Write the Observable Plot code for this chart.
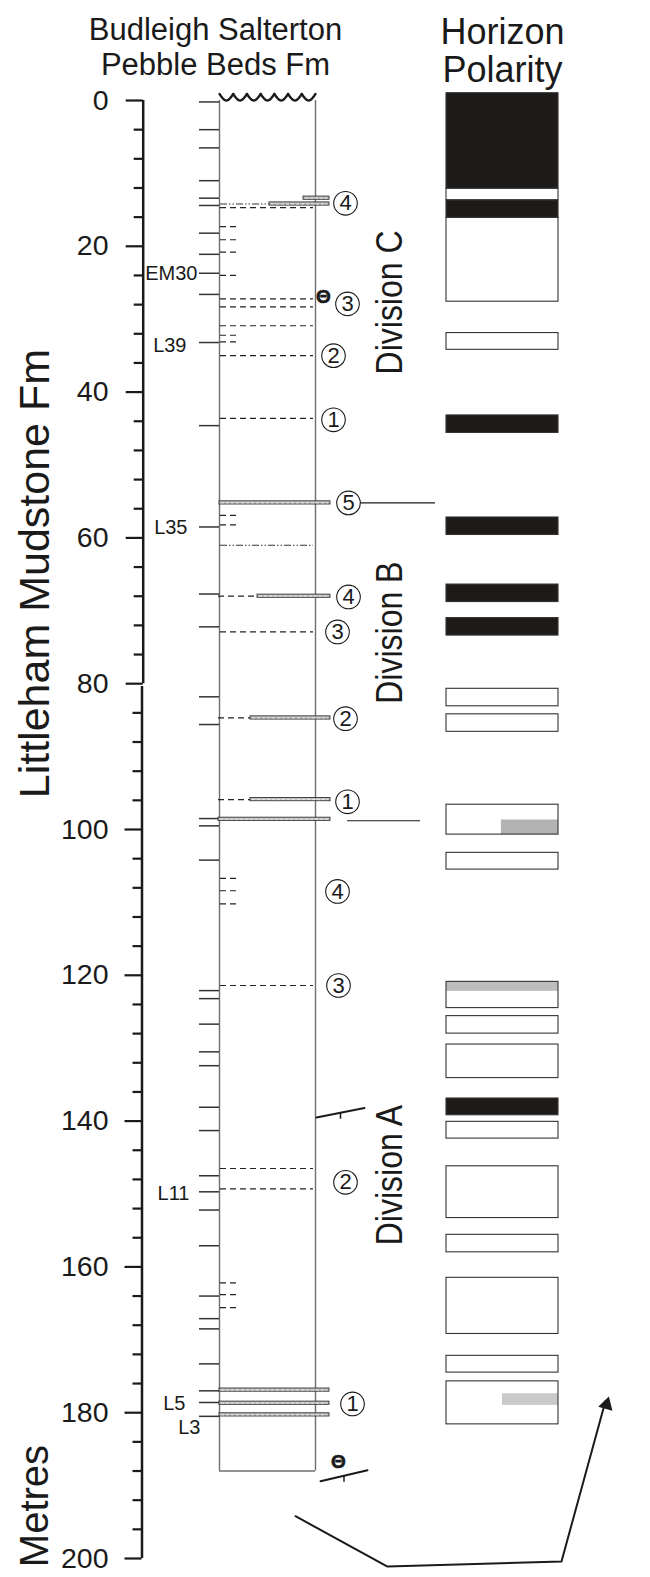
<!DOCTYPE html>
<html>
<head>
<meta charset="utf-8">
<script src="https://cdn.jsdelivr.net/npm/d3@7"></script>
<script src="https://cdn.jsdelivr.net/npm/@observablehq/plot@0.6"></script>
<style>
  html, body { margin: 0; padding: 0; background: #fff; }
  #chart svg { display: block; }
</style>
</head>
<body>
<div id="chart"></div>
<script>
// ---------------- DATA ----------------
// depth axis (metres)
const majorTicks = [0, 20, 40, 60, 80, 100, 120, 140, 160, 180, 200];
const minorTicks = [4, 8, 12, 16, 24, 28, 32, 36, 44, 48, 52, 56, 64, 68, 72, 76,
  84, 88, 92, 96, 104, 108, 112, 116, 124, 128, 132, 136, 144, 148, 152, 156,
  164, 168, 172, 176, 184, 188, 192, 196];

// headings
const columnTitle = ["Budleigh Salterton", "Pebble Beds Fm"];
const polarityTitle = ["Horizon", "Polarity"];
const formationName = "Littleham Mudstone Fm";
const unitName = "Metres";

// log column
const columnBase = 188.0;
const bedTicks = [0.2, 4.0, 6.5, 11.0, 13.4, 14.4, 18.2, 21.1, 23.7, 26.6, 33.2, 44.6,
  58.5, 67.7, 72.2, 81.8, 85.6, 98.5, 99.5, 104.2, 122.1, 123.2, 126.7, 130.5, 132.4,
  138.1, 141.3, 147.5, 149.7, 152.2, 157.1, 164.0, 167.1, 168.5, 173.3, 177.0, 178.6, 180.5];
const shortDashes = [17.3, 19.1, 20.8, 24.0, 32.2, 33.1, 56.9, 58.2, 106.7, 108.4, 110.2, 162.2, 163.8, 165.6];
const dashedLines = [14.7, 27.2, 28.3, 30.9, 35.0, 43.6, 72.9, 121.4, 146.5, 149.3];
const dotDashLines = [61.0];

// marker horizons (thin hatched beds)
const horizonDepths = [13.4, 14.2, 55.2, 68.0, 84.7, 95.9, 98.6, 176.9, 178.7, 180.3];
const horizonLead = ["none", "dotdash", "none", "dash", "dash", "dash", "none", "none", "none", "none"];

// circled horizon numbers
const circleNumbers = ["4", "3", "2", "1", "5", "4", "3", "2", "1", "4", "3", "2", "1"];
const circleDepths = [14.1, 27.9, 35.0, 43.8, 55.2, 68.1, 72.9, 84.8, 96.2, 108.5, 121.4, 148.4, 178.8];

// bed labels
const bedLabels = ["EM30", "L39", "L35", "L11", "L5", "L3"];
const bedLabelDepths = [23.7, 33.6, 58.6, 150.0, 178.8, 182.0];

// divisions
const divisionNames = ["Division C", "Division B", "Division A"];
const divisionCentres = [27.7, 73.0, 147.4];

// horizon polarity column: top, base, polarity (N = black, R = white)
const polTop = [-1.0, 12.1, 13.7, 16.1, 31.9, 43.2, 57.2, 66.4, 71.0, 80.7, 84.2, 96.6,
  103.2, 120.9, 125.6, 129.5, 136.9, 140.1, 146.2, 155.6, 161.5, 172.2, 175.7];
const polBase = [12.1, 13.7, 16.1, 27.6, 34.2, 45.6, 59.6, 68.8, 73.4, 83.1, 86.6, 100.7,
  105.5, 124.5, 128.0, 134.1, 139.2, 142.4, 153.3, 158.0, 169.2, 174.5, 181.6];
const polSign = ["N", "R", "N", "R", "R", "N", "N", "N", "N", "R", "R", "R",
  "R", "R", "R", "R", "N", "R", "R", "R", "R", "R", "R"];
// uncertain (grey) intervals inside polarity boxes
const greyTop = [98.7, 120.9, 177.4];
const greyBase = [100.7, 122.2, 179.0];
const greyShade = ["#b2b2b2", "#bdbdbd", "#c9c9c9"];
const greyFromFraction = [0.49, 0.0, 0.50];

// dip/strike symbols and unconformity marker
const strikeDepthsA = [139.5, 138.2];
const strikeDepthsB = [189.4, 187.9];
const thetaDepths = [27.0, 186.7];
const connectorDepths = [55.2, 98.8];
const arrowDepths = [194.2, 201.1, 200.4, 178.4];

// ---------------- LAYOUT (page positions, x in px) ----------------
const AX_U = 142.7, AX_L = 141.5, AXIS_BREAK = 80, AXIS_RESTART = 80.4;
const LITH_L = 219, LITH_R = 315;
const POL_L = 446, POL_R = 558;
const TICK_L = 199;
const DASH_R = 238;
const horizonFromX = [303, 269, 219, 257, 250, 250, 218, 219, 219, 219];
const horizonToX = [329, 329, 330, 330, 330, 330, 330, 329, 329, 329];
const circleX = [345, 347, 333, 333, 348, 348, 337, 345, 347, 337, 338, 345, 352];
const bedLabelRight = [197, 186, 187, 189, 185, 200];
const thetaX = [323, 338];
const connectorX1 = [359, 347], connectorX2 = [435, 420];
const strikeXA = [316, 364], strikeXB = [320, 367];
const arrowX = [295, 387, 561, 605];

// ---------------- BUILD TABLES ----------------
const axisX = v => (v <= AXIS_BREAK ? AX_U : AX_L);
const horizons = horizonDepths.map((d, i) => ({d, lead: horizonLead[i], x1: horizonFromX[i], x2: horizonToX[i]}));
const circles = circleNumbers.map((n, i) => ({n, d: circleDepths[i], x: circleX[i]}));
const labels = bedLabels.map((t, i) => ({t, d: bedLabelDepths[i], x: bedLabelRight[i]}));
const divisions = divisionNames.map((t, i) => ({t, d: divisionCentres[i]}));
const polarity = polTop.map((t, i) => ({t, b: polBase[i], s: polSign[i]}));
const greys = greyTop.map((t, i) => ({t, b: greyBase[i], c: greyShade[i], f: greyFromFraction[i]}));
const strikes = [
  {x: strikeXA, y: strikeDepthsA},
  {x: strikeXB, y: strikeDepthsB}
];
const strikeLines = strikes.flatMap((s, k) => s.x.map((x, j) => ({k, x, y: s.y[j]})));
const strikeTicks = strikes.map((s, k) => ({k, x: (s.x[0] + s.x[1]) / 2, y: (s.y[0] + s.y[1]) / 2}));
const arrowPts = arrowX.map((x, i) => ({x, y: arrowDepths[i]}));
// scallops of the erosive top surface
const nScallop = 7;
const scallops = d3.range(nScallop).flatMap(i => d3.range(0, 1.0001, 0.1).map(t => ({
  i, x: LITH_L + (i + t) * (LITH_R - LITH_L) / nScallop, y: -0.9 + 0.9 * Math.sin(Math.PI * t)
})));

const FONT = "'Liberation Sans', Arial, Helvetica, sans-serif";
const INK = "#1a1a1a";

const chart = Plot.plot({
  width: 650,
  height: 1577,
  margin: 0,
  x: {domain: [0, 650], range: [0, 650], axis: null},
  y: {domain: [0, 200], range: [100, 1558], axis: null},
  style: {fontFamily: FONT, background: "#fff", color: INK, overflow: "visible"},
  marks: [
    // headings
    Plot.text(columnTitle, {x: 215, y: [-8.3, -3.5], text: d => d, fontSize: 31, lineAnchor: "bottom", fill: INK}),
    Plot.text(polarityTitle, {x: 502, y: [-7.7, -2.5], text: d => d, fontSize: 36, lineAnchor: "bottom", fill: INK}),

    // depth axis
    Plot.ruleX([AX_U], {x: d => d, y1: 0, y2: AXIS_BREAK, stroke: INK, strokeWidth: 2.5}),
    Plot.ruleX([AX_L], {x: d => d, y1: AXIS_RESTART, y2: 200, stroke: INK, strokeWidth: 2.5}),
    Plot.ruleY(majorTicks, {y: d => d, x1: d => axisX(d) - 17, x2: d => axisX(d), stroke: INK, strokeWidth: 2.2}),
    Plot.ruleY(minorTicks, {y: d => d, x1: d => axisX(d) - 9, x2: d => axisX(d), stroke: INK, strokeWidth: 2.2}),
    Plot.text(majorTicks, {y: d => d, x: 108, text: d => String(d), textAnchor: "end", fontSize: 28.5, fill: INK}),
    Plot.text([formationName], {x: 48, y: 64.9, text: d => d, rotate: -90, lineAnchor: "bottom", fontSize: 43, fill: INK}),
    Plot.text([unitName], {x: 47, y: 192.8, text: d => d, rotate: -90, lineAnchor: "bottom", fontSize: 40, fill: INK}),

    // log column outline
    Plot.ruleX([LITH_L, LITH_R], {x: d => d, y1: 0, y2: columnBase, stroke: "#6e6e6e", strokeWidth: 1.4}),
    Plot.ruleY([columnBase], {y: d => d, x1: LITH_L, x2: LITH_R, stroke: "#6e6e6e", strokeWidth: 1.4}),
    Plot.line(scallops, {x: "x", y: "y", z: "i", stroke: INK, strokeWidth: 2.4}),

    // bed ticks, dashes
    Plot.ruleY(bedTicks, {y: d => d, x1: TICK_L, x2: LITH_L, stroke: "#333", strokeWidth: 1.5}),
    Plot.ruleY(shortDashes, {y: d => d, x1: LITH_L + 1, x2: DASH_R, stroke: "#222", strokeWidth: 1.2, strokeDasharray: "6,4"}),
    Plot.ruleY(dashedLines, {y: d => d, x1: LITH_L + 1, x2: LITH_R - 2, stroke: "#222", strokeWidth: 1.2, strokeDasharray: "6,4"}),
    Plot.ruleY(dotDashLines, {y: d => d, x1: LITH_L + 1, x2: LITH_R - 2, stroke: "#333", strokeWidth: 1.1, strokeDasharray: "7,2,1.5,2,1.5,2"}),
    Plot.ruleY(horizons.filter(h => h.lead === "dash"), {y: "d", x1: LITH_L - 1, x2: "x1", stroke: "#222", strokeWidth: 1.2, strokeDasharray: "6,4"}),
    Plot.ruleY(horizons.filter(h => h.lead === "dotdash"), {y: "d", x1: LITH_L + 1, x2: "x1", stroke: "#333", strokeWidth: 1.1, strokeDasharray: "7,2,1.5,2,1.5,2"}),

    // marker horizons
    Plot.rect(horizons, {x1: "x1", x2: "x2", y1: d => d.d - 0.22, y2: d => d.d + 0.22, fill: "#c2c2c2", stroke: "#333", strokeWidth: 0.9}),
    Plot.ruleY(horizons, {y: "d", x1: d => d.x1 + 2, x2: d => d.x2 - 2, stroke: "#f2f2f2", strokeWidth: 0.8, strokeDasharray: "3,2"}),

    // circled numbers and connectors
    Plot.ruleY(connectorDepths, {y: d => d, x1: (d, i) => connectorX1[i], x2: (d, i) => connectorX2[i], stroke: INK, strokeWidth: 1.2}),
    Plot.dot(circles, {x: "x", y: "d", r: 11.8, fill: "#fff", stroke: INK, strokeWidth: 1.1}),
    Plot.text(circles, {x: "x", y: "d", text: "n", fontSize: 22, fill: INK}),

    // bed labels
    Plot.text(labels, {x: "x", y: "d", text: "t", textAnchor: "end", fontSize: 20, fill: INK}),

    // theta markers & strike symbols
    Plot.text(thetaDepths, {x: (d, i) => thetaX[i], y: d => d, text: () => "Θ", fontSize: 19, fontWeight: "bold", fill: INK, stroke: INK, strokeWidth: 0.6}),
    Plot.line(strikeLines, {x: "x", y: "y", z: "k", stroke: INK, strokeWidth: 2}),
    Plot.ruleX(strikeTicks, {x: "x", y1: "y", y2: d => d.y + 0.9, stroke: INK, strokeWidth: 1.5}),

    // divisions
    Plot.text(divisions, {x: 401, y: "d", text: "t", rotate: -90, lineAnchor: "bottom", fontSize: 32, fill: INK}),

    // polarity column
    Plot.rect(polarity, {x1: POL_L, x2: POL_R, y1: "t", y2: "b", fill: d => d.s === "N" ? "#1e1a17" : "#fff"}),
    Plot.rect(greys, {x1: d => POL_L + d.f * (POL_R - POL_L), x2: POL_R, y1: "t", y2: "b", fill: "c"}),
    Plot.rect(polarity, {x1: POL_L, x2: POL_R, y1: "t", y2: "b", fill: "none", stroke: "#333", strokeWidth: 1.1}),

    // bottom arrow
    Plot.line(arrowPts, {x: "x", y: "y", stroke: INK, strokeWidth: 2}),
    Plot.dot([{x: 606, y: 178.9}], {x: "x", y: "y", symbol: "triangle", r: 5.5, rotate: 16, fill: INK, stroke: "none"})
  ]
});

// the division labels in the reference are drawn with taller, narrower glyphs
d3.select(chart).selectAll("text")
  .filter(function() { return /^Division/.test(this.textContent); })
  .attr("transform", function() { return (this.getAttribute("transform") || "") + " scale(1,1.15)"; });

document.getElementById("chart").appendChild(chart);
</script>
</body>
</html>
